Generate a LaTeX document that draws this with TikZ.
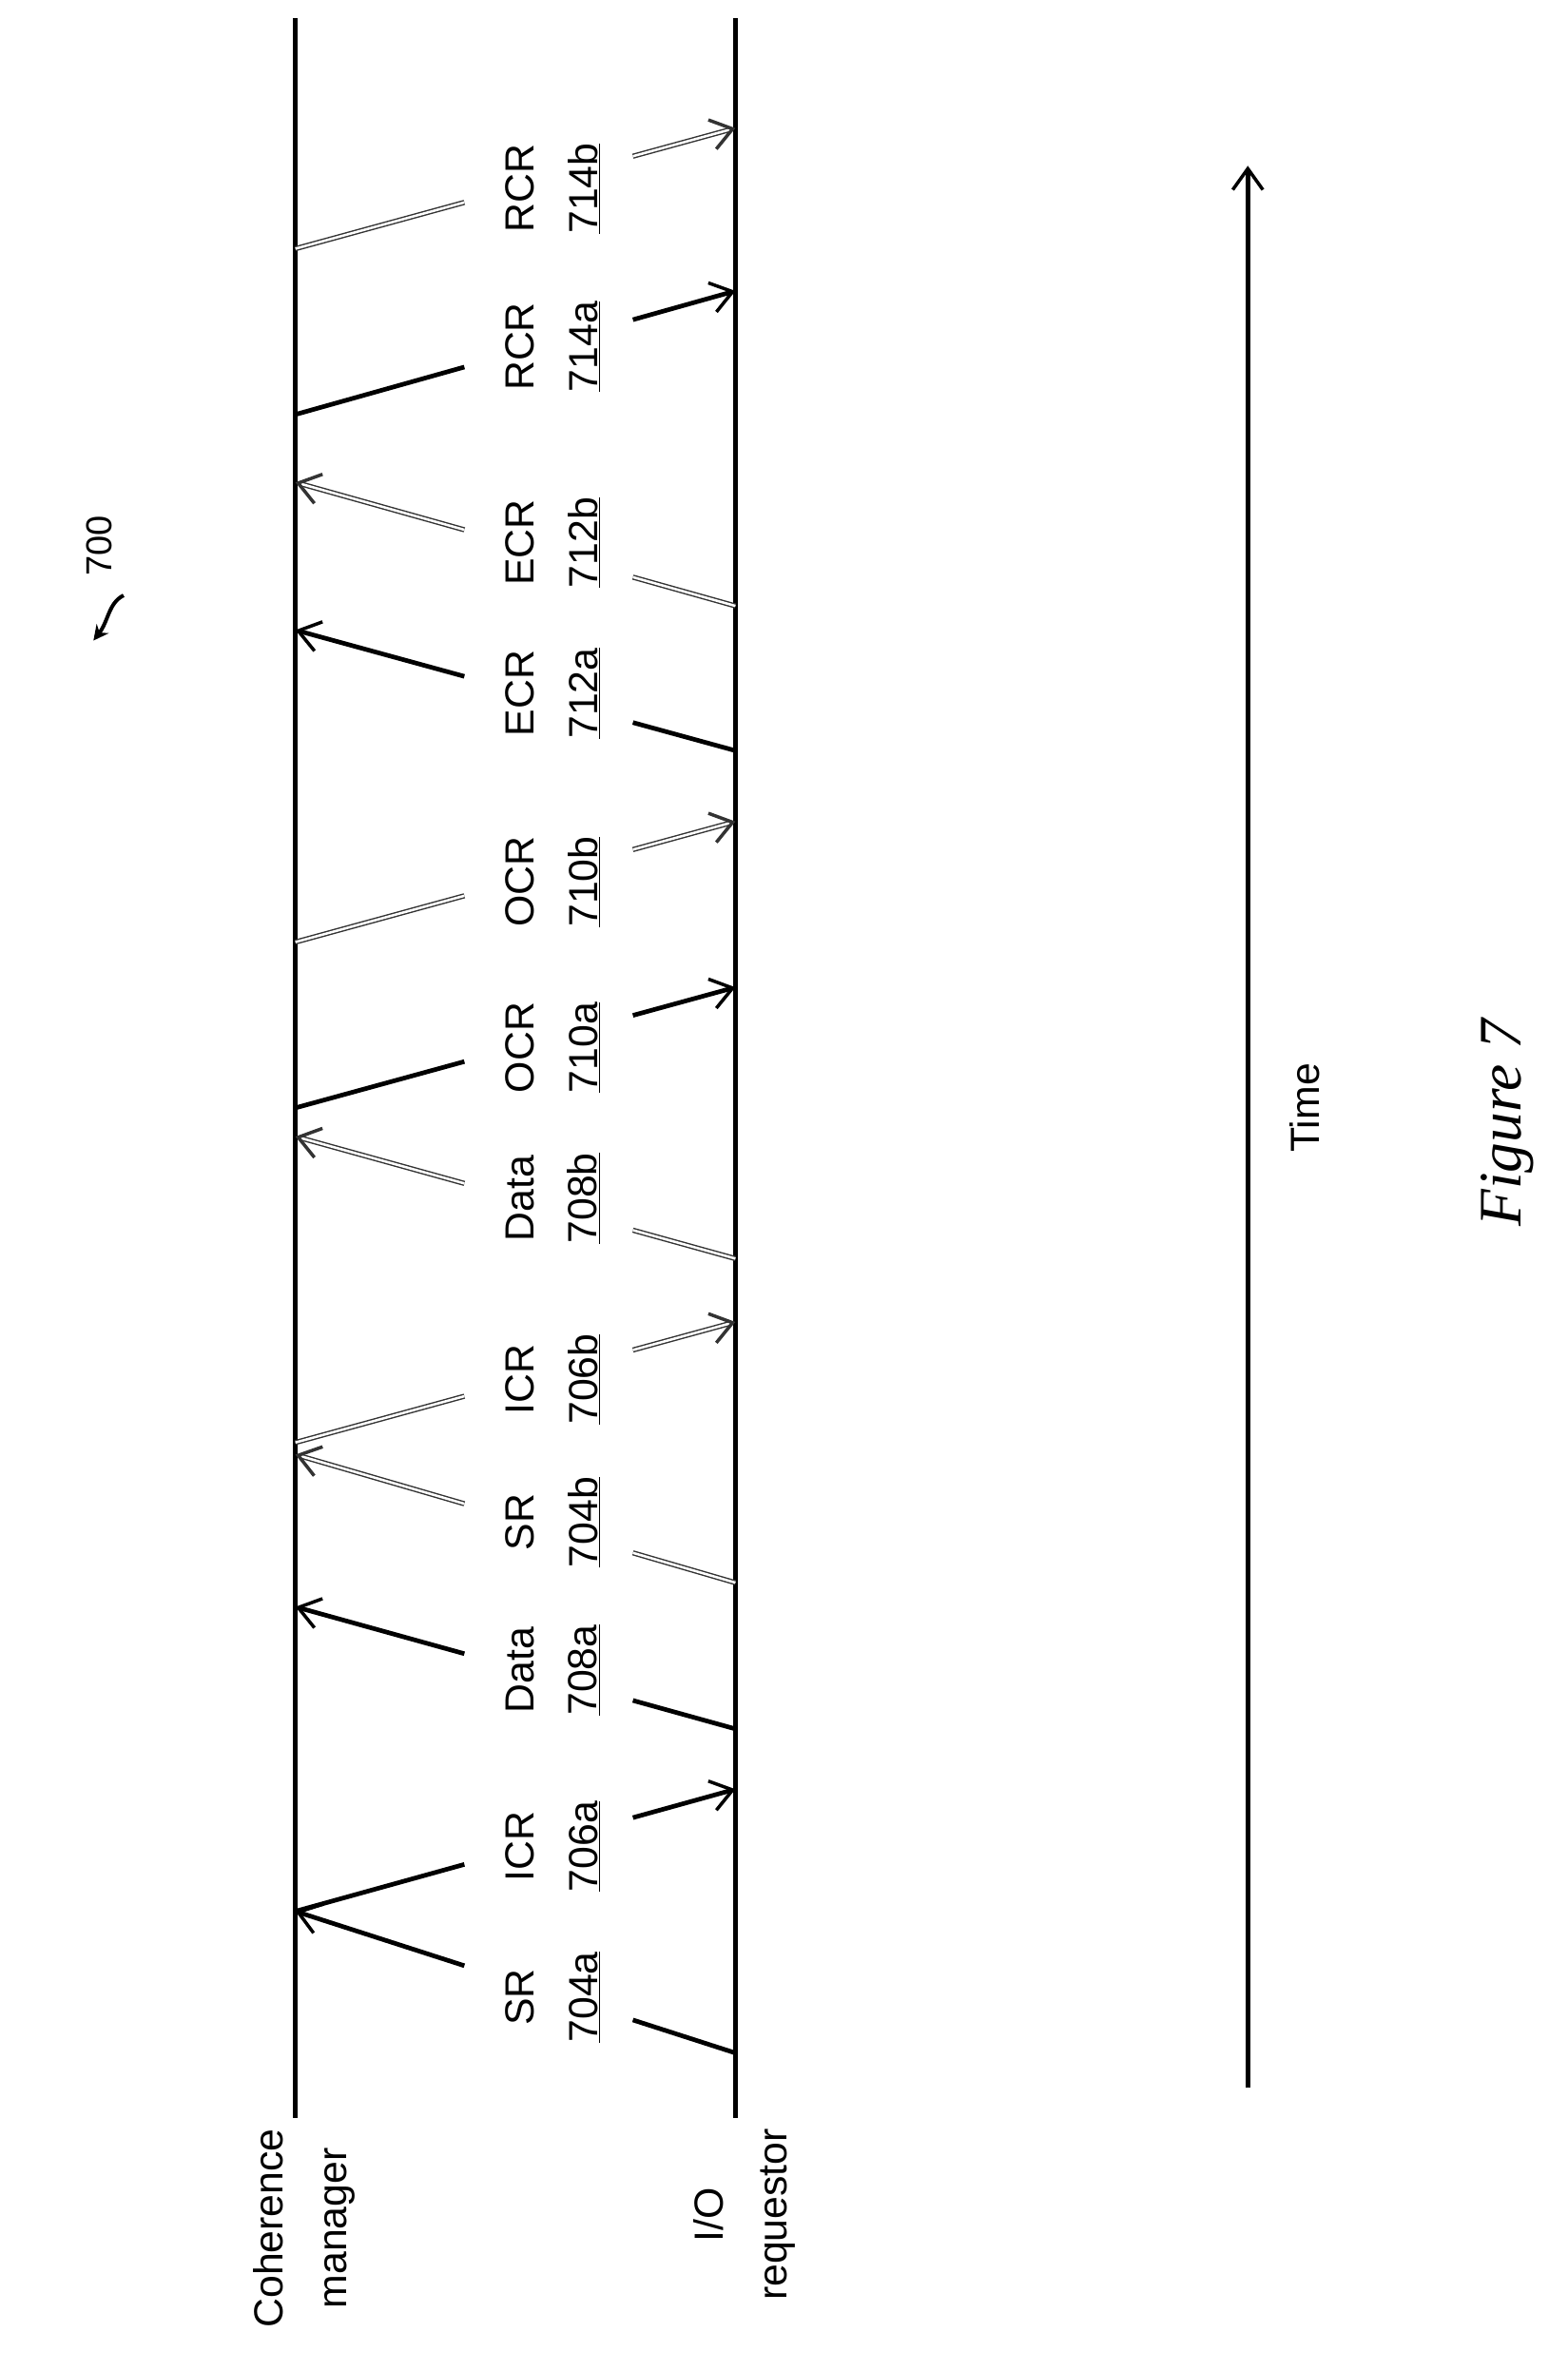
\documentclass[tikz,border=0pt]{standalone}
\usepackage{fontspec}
\setmainfont{Liberation Sans}
\newfontfamily\serifit{Liberation Serif}
\usetikzlibrary{arrows.meta,calc}
\begin{document}
\begin{tikzpicture}[x=1pt,y=-1pt,
  thickmsg/.style={line width=3pt},
  dblmsg/.style={draw=black!80,line width=0.9pt,double=white,double distance=1.6pt},
  tip/.style={-{Straight Barb[length=14pt,width=20pt,line width=2.2pt]}},
  lbl/.style={rotate=90,font=\fontsize{27}{42}\selectfont,align=center,inner sep=0pt}]
\useasboundingbox (0,0) rectangle (1040,1573);
\draw[line width=3pt] (196,12) coordinate (cmt) -- (196,1405) coordinate (cmb);
\draw[line width=3pt] (488,12) coordinate (iot) -- (488,1405) coordinate (iob);
\node[lbl,anchor=east] (cmlbl) at (202,1412) {Coherence\\manager};
\node[lbl,anchor=east] (iolbl) at (494,1412) {I/O\\requestor};
% message macro: name, sx, sy, ex, ey, style, label, number, labely; #10 gap start, #11 gap end fractions
\newcommand\mymsg[9]{%
  \coordinate (#1s) at (#2,#3); \coordinate (#1e) at (#4,#5);
  \ifnum#2<300 \def\fa{0.384}\def\fb{0.767}\else\def\fa{0.233}\def\fb{0.616}\fi
  \draw[#6] (#1s) -- ($(#1s)!\fa!(#1e)$);
  \draw[#6,tip] ($(#1s)!\fb!(#1e)$) -- (#1e);
  \node[lbl] (#1l) at (367,#9) {#7\\\underline{#8}};}
\mymsg{a}{488}{1362}{196}{1268}{thickmsg}{SR}{704a}{1325}
\mymsg{b}{196}{1268}{488}{1187}{thickmsg}{ICR}{706a}{1225}
\mymsg{c}{488}{1147}{196}{1066}{thickmsg}{Data}{708a}{1108}
\mymsg{d}{488}{1050}{196}{965}{dblmsg}{SR}{704b}{1010}
\mymsg{e}{196}{957}{488}{877}{dblmsg}{ICR}{706b}{915}
\mymsg{f}{488}{835}{196}{754}{dblmsg}{Data}{708b}{795}
\mymsg{g}{196}{735}{488}{655}{thickmsg}{OCR}{710a}{695}
\mymsg{h}{196}{625}{488}{545}{dblmsg}{OCR}{710b}{585}
\mymsg{i}{488}{498}{196}{418}{thickmsg}{ECR}{712a}{460}
\mymsg{j}{488}{402}{196}{320}{dblmsg}{ECR}{712b}{360}
\mymsg{k}{196}{275}{488}{193}{thickmsg}{RCR}{714a}{230}
\mymsg{l}{196}{165}{488}{85}{dblmsg}{RCR}{714b}{125}
\draw[line width=3pt,tip] (828,1385) coordinate (t0) -- (828,110) coordinate (t1);
\node[lbl] (time) at (866,735) {Time};
\node[rotate=90,font=\serifit\itshape\fontsize{40}{40}\selectfont] (fig) at (1000,745) {Figure 7};
\node[rotate=90,font=\fontsize{24}{24}\selectfont] (n700) at (66,362) {700};
\coordinate (p700) at (62,425);
\draw[line width=2.5pt,-{Stealth[length=10pt,width=10pt]}] (82,395) .. controls (72,400) and (72,412) .. (p700);
\end{tikzpicture}
\end{document}
